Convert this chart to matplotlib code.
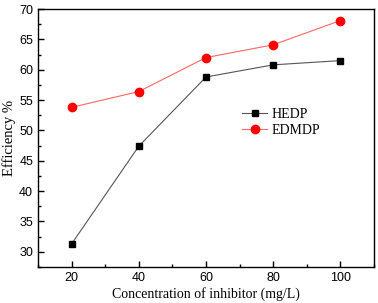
import matplotlib
matplotlib.use('Agg')
import matplotlib.pyplot as plt
from matplotlib.ticker import MultipleLocator

# data
conc = [20, 40, 60, 80, 100]
hedp = [31.3, 47.4, 58.8, 60.8, 61.5]
edmdp = [53.8, 56.4, 62.0, 64.1, 68.1]

fig = plt.figure(figsize=(3.78, 3.03), dpi=100)
ax = fig.add_axes([38/378, 1 - 267/303, 336/378, 258/303])

ax.plot(conc, hedp, color='#555555', lw=0.8, marker='s', ms=5,
        mfc='black', mec='black', label='HEDP')
ax.plot(conc, edmdp, color='#ff6666', lw=0.8, marker='o', ms=6,
        mfc='red', mec='red', label='EDMDP')

ax.set_xlim(10, 110)
ax.set_ylim(27.5, 70)
ax.xaxis.set_major_locator(MultipleLocator(20))
ax.xaxis.set_minor_locator(MultipleLocator(10))
ax.yaxis.set_major_locator(MultipleLocator(5))
ax.yaxis.set_minor_locator(MultipleLocator(2.5))
ax.tick_params(which='both', direction='in', top=False, right=False,
               labelsize=9, width=1)
ax.tick_params(which='major', length=4)
ax.tick_params(which='minor', length=2)
for lab in ax.get_xticklabels() + ax.get_yticklabels():
    lab.set_family('Liberation Sans')
for s in ax.spines.values():
    s.set_linewidth(1)

ax.set_xlabel('Concentration of inhibitor (mg/L)', family='Liberation Serif',
              fontsize=10, labelpad=2)
ax.set_ylabel('Efficiency %', family='Liberation Serif', fontsize=10.5, labelpad=2)

ax.legend(loc='upper left', bbox_to_anchor=(0.57, 0.665), frameon=False,
          prop={'family': 'Liberation Serif', 'size': 10},
          handlelength=1.8, handletextpad=0.3, labelspacing=0.2)

fig.savefig('out.png', dpi=100)
